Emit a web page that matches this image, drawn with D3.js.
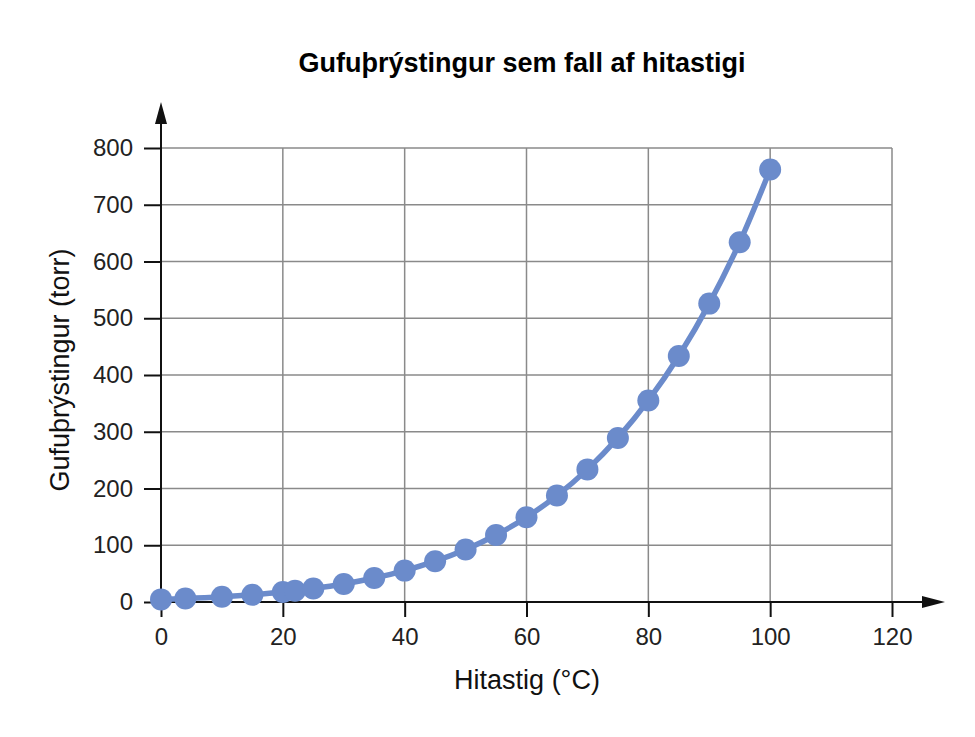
<!DOCTYPE html>
<html>
<head>
<meta charset="utf-8">
<script src="https://cdn.jsdelivr.net/npm/d3@7"></script>
<style>
  body { margin: 0; background: #fff; }
  text { font-family: "Liberation Sans", Arial, sans-serif; }
</style>
</head>
<body>
<script>
// hitastig (°C) og gufuþrýstingur (torr), lesið af myndinni
var temps = [0, 4, 10, 15, 20, 22, 25, 30, 35, 40, 45, 50, 55, 60, 65, 70, 75, 80, 85, 90, 95, 100];
var pressures = [4.6, 6.1, 9.2, 12.8, 17.5, 19.8, 23.8, 31.8, 42.2, 55.3, 71.9, 92.5, 118, 149.4, 187.5, 233.7, 289.1, 355.1, 433.6, 525.8, 633.9, 762];
var xTicks = [0, 20, 40, 60, 80, 100, 120];
var yTicks = [0, 100, 200, 300, 400, 500, 600, 700, 800];

var WIDTH = 975,
    HEIGHT = 737;

var svg = d3.select("body").append("svg")
    .attr("width", WIDTH)
    .attr("height", HEIGHT);

var x = d3.scaleLinear().domain([0, 120]).range([161, 892]);
var y = d3.scaleLinear().domain([0, 800]).range([602, 148]);

var data = temps.map(function(t, i) { return {t: t, p: pressures[i]}; });

// grid
svg.append("g").selectAll("line.h")
  .data(yTicks.slice(1))
  .enter().append("line")
    .attr("x1", x(0)).attr("x2", x(120))
    .attr("y1", function(d) { return y(d); })
    .attr("y2", function(d) { return y(d); })
    .style("stroke", "#8a8a8a").style("stroke-width", 1.5);

svg.append("g").selectAll("line.v")
  .data(xTicks.slice(1))
  .enter().append("line")
    .attr("x1", function(d) { return x(d); })
    .attr("x2", function(d) { return x(d); })
    .attr("y1", y(800)).attr("y2", y(0))
    .style("stroke", "#8a8a8a").style("stroke-width", 1.5);

// axes
var xAxis = d3.axisBottom(x).tickValues(xTicks).tickSize(15).tickPadding(11);
var yAxis = d3.axisLeft(y).tickValues(yTicks).tickSize(17).tickPadding(11);

var gx = svg.append("g").attr("transform", "translate(0," + y(0) + ")").call(xAxis);
var gy = svg.append("g").attr("transform", "translate(" + x(0) + ",0)").call(yAxis);

[gx, gy].forEach(function(g) {
  g.select(".domain").remove();
  g.selectAll(".tick line").style("stroke", "#111").style("stroke-width", 2);
  g.selectAll(".tick text")
    .style("font-size", "24px")
    .style("fill", "#222")
    .style("font-family", "'Liberation Sans', Arial, sans-serif");
});

// axis lines with arrows
svg.append("line")
  .attr("x1", x(0)).attr("x2", 930)
  .attr("y1", y(0)).attr("y2", y(0))
  .style("stroke", "#111").style("stroke-width", 2);
svg.append("path")
  .attr("d", "M945," + y(0) + "L922," + (y(0) - 6) + "L922," + (y(0) + 6) + "Z")
  .style("fill", "#111");

svg.append("line")
  .attr("x1", x(0)).attr("x2", x(0))
  .attr("y1", y(0)).attr("y2", 118)
  .style("stroke", "#111").style("stroke-width", 2);
svg.append("path")
  .attr("d", "M" + x(0) + ",102L" + (x(0) - 6) + ",124L" + (x(0) + 6) + ",124Z")
  .style("fill", "#111");

// series
var line = d3.line()
  .x(function(d) { return x(d.t); })
  .y(function(d) { return y(d.p); })
  .curve(d3.curveMonotoneX);

svg.append("path")
  .datum(data)
  .attr("d", line)
  .style("fill", "none")
  .style("stroke", "#6b8bcb")
  .style("stroke-width", 5.5);

svg.append("g").selectAll("circle")
  .data(data)
  .enter().append("circle")
    .attr("cx", function(d) { return x(d.t); })
    .attr("cy", function(d) { return y(d.p); })
    .attr("r", 11)
    .style("fill", "#6b8bcb");

// titles
svg.append("text")
  .attr("x", 522).attr("y", 72)
  .attr("text-anchor", "middle")
  .style("font-size", "27px").style("font-weight", "bold")
  .text("Gufuþrýstingur sem fall af hitastigi");

svg.append("text")
  .attr("x", 527).attr("y", 689)
  .attr("text-anchor", "middle")
  .style("font-size", "27px").style("fill", "#111")
  .text("Hitastig (°C)");

svg.append("text")
  .attr("transform", "translate(69,370) rotate(-90)")
  .attr("text-anchor", "middle")
  .style("font-size", "27px").style("fill", "#111")
  .text("Gufuþrýstingur (torr)");
</script>
</body>
</html>
